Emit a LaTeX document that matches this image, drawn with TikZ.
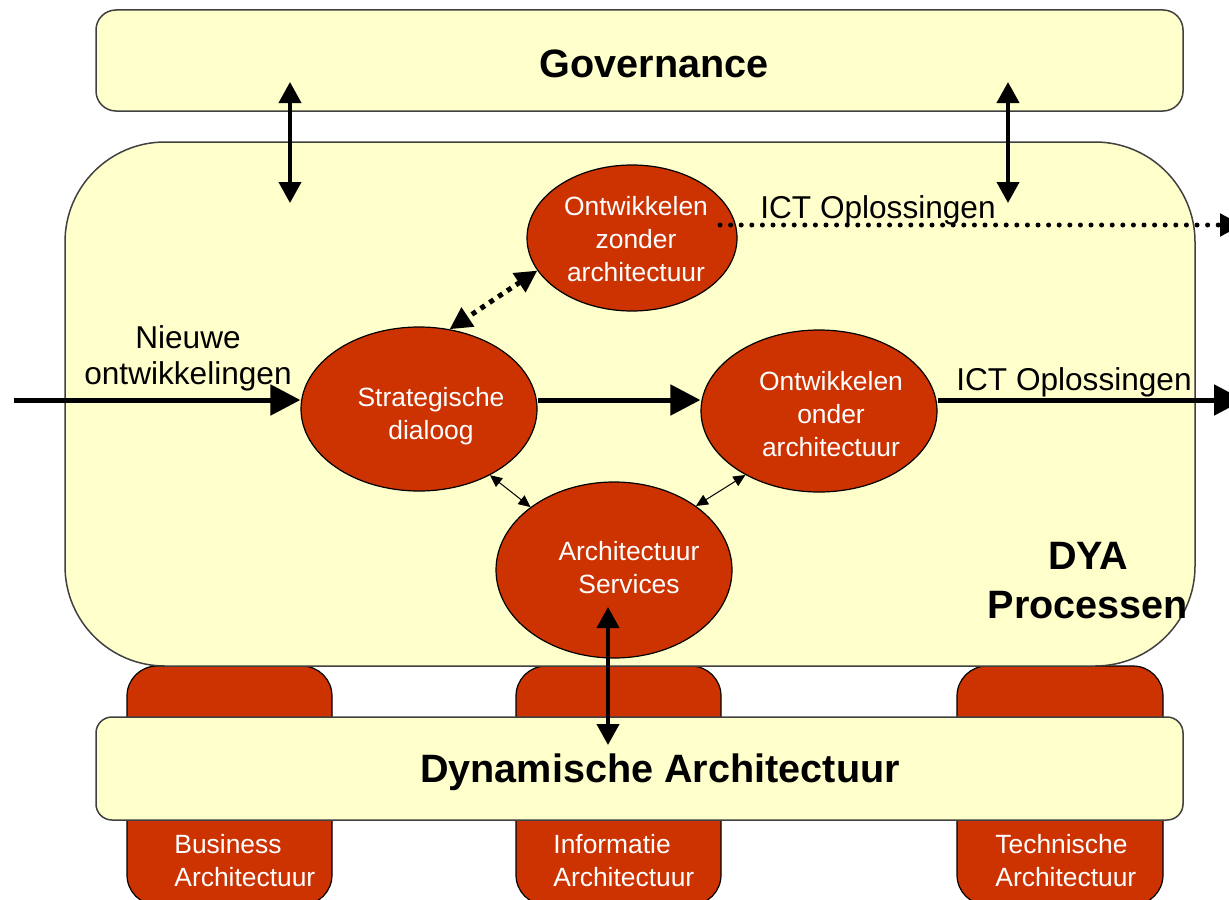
\documentclass[tikz,border=0pt]{standalone}
\usepackage{fontspec}
\setmainfont{Liberation Sans}
\usetikzlibrary{shapes.geometric,arrows.meta}
\definecolor{pale}{HTML}{FFFFCC}
\definecolor{brick}{HTML}{CC3300}
\begin{document}
\begin{tikzpicture}[x=0.5pt,y=-0.5pt,
  panel/.style={draw=black!75, line width=0.75pt, fill=pale},
  pillar/.style={draw=black, line width=0.6pt, fill=brick, rounded corners=15pt},
  proc/.style={ellipse, draw=black, line width=0.6pt, fill=brick, inner sep=0pt},
  proctext/.style={text=white, font=\fontsize{13.2}{16.5}\selectfont, align=center, inner sep=0pt},
  pilltext/.style={text=white, font=\fontsize{13.2}{16.5}\selectfont, align=left, inner sep=0pt, anchor=west},
  bigtext/.style={font=\fontsize{19.8}{24.5}\selectfont\bfseries, align=center, inner sep=0pt},
  midtext/.style={font=\fontsize{15.8}{18}\selectfont, align=center, inner sep=0pt},
  bigarrow/.style={-{Triangle[length=15pt,width=15pt]}, line width=2.5pt},
  twoway/.style={{Triangle[length=10.5pt,width=11pt]}-{Triangle[length=10.5pt,width=11pt]}, line width=2pt},
  dotway/.style={{Triangle[length=11pt,width=11pt]}-{Triangle[length=11pt,width=11pt]}, line width=2.5pt, dash pattern=on 2.5pt off 2.8pt},
  thinway/.style={{Triangle[length=6pt,width=5.5pt]}-{Triangle[length=6pt,width=5.5pt]}, line width=0.5pt},
  dotarrow/.style={-{Triangle[length=11pt,width=11pt]}, line width=2.5pt, line cap=round, dash pattern=on 0pt off 5.3pt}
]
\useasboundingbox (0,0) rectangle (1229,899);
% pillars
\draw[pillar] (127,666) rectangle (332,905);
\draw[pillar] (516,666) rectangle (721,905);
\draw[pillar] (957,666) rectangle (1163,905);
% main process box
\draw[panel, rounded corners=50pt] (65,142) rectangle (1195,666);
% governance
\draw[panel, rounded corners=10pt] (96,10) rectangle (1183,111);
\node[bigtext] (gov) at (654,64) {Governance};
% dynamische architectuur
\draw[panel, rounded corners=8pt] (96,717) rectangle (1183,820);
\node[bigtext] (dyn) at (660,772) {Dynamische Architectuur};
% pillar texts
\node[pilltext] (bus) at (174,861) {Business\\Architectuur};
\node[pilltext] (inf) at (553,861) {Informatie\\Architectuur};
\node[pilltext] (tec) at (995,861) {Technische\\Architectuur};
% process ellipses
\node[proc, minimum width=105pt, minimum height=73pt] (zonder) at (632,238) {};
\node[proc, minimum width=118pt, minimum height=82pt] (strat) at (419,409) {};
\node[proc, minimum width=118pt, minimum height=81pt] (onder) at (819,411) {};
\node[proc, minimum width=118pt, minimum height=88pt] (serv) at (614,570) {};
\node[proctext] (zondert) at (636,239) {Ontwikkelen\\zonder\\architectuur};
\node[proctext] (stratt) at (431,416) {Strategische\\dialoog};
\node[proctext] (ondert) at (831,414) {Ontwikkelen\\onder\\architectuur};
\node[proctext] (servt) at (629,568) {Architectuur\\Services};
% labels
\node[midtext] (nieuw) at (188,358) {Nieuwe\\ontwikkelingen};
\node[midtext] (ict1) at (878,210) {ICT Oplossingen};
\node[midtext] (ict2) at (1074,382) {ICT Oplossingen};
\node[bigtext] (dya) at (1088,581) {DYA\\Processen};
% coordinates
\coordinate (in) at (14,400);
\coordinate (out) at (1244,400);
\coordinate (ictstart) at (720,225);
\coordinate (ictend) at (1242,225);
\coordinate (g1t) at (290,82);
\coordinate (g1b) at (290,203);
\coordinate (g2t) at (1008,82);
\coordinate (g2b) at (1008,203);
\coordinate (st) at (608,607);
\coordinate (sb) at (608,745);
% connectors
\draw[bigarrow] (in) -- (in -| strat.west);
\draw[bigarrow] (strat.east |- in) -- (onder.west |- in);
\draw[bigarrow] (onder.east |- in) -- (out);
\draw[dotarrow] (ictstart) -- (ictend);
\draw[dotway] (zonder.199) -- (strat.69);
\draw[thinway] (strat.-43) -- (serv.143);
\draw[thinway] (onder.221) -- (serv.38);
\draw[twoway] (g1t) -- (g1b);
\draw[twoway] (g2t) -- (g2b);
\draw[twoway] (st) -- (sb);
\end{tikzpicture}
\end{document}
